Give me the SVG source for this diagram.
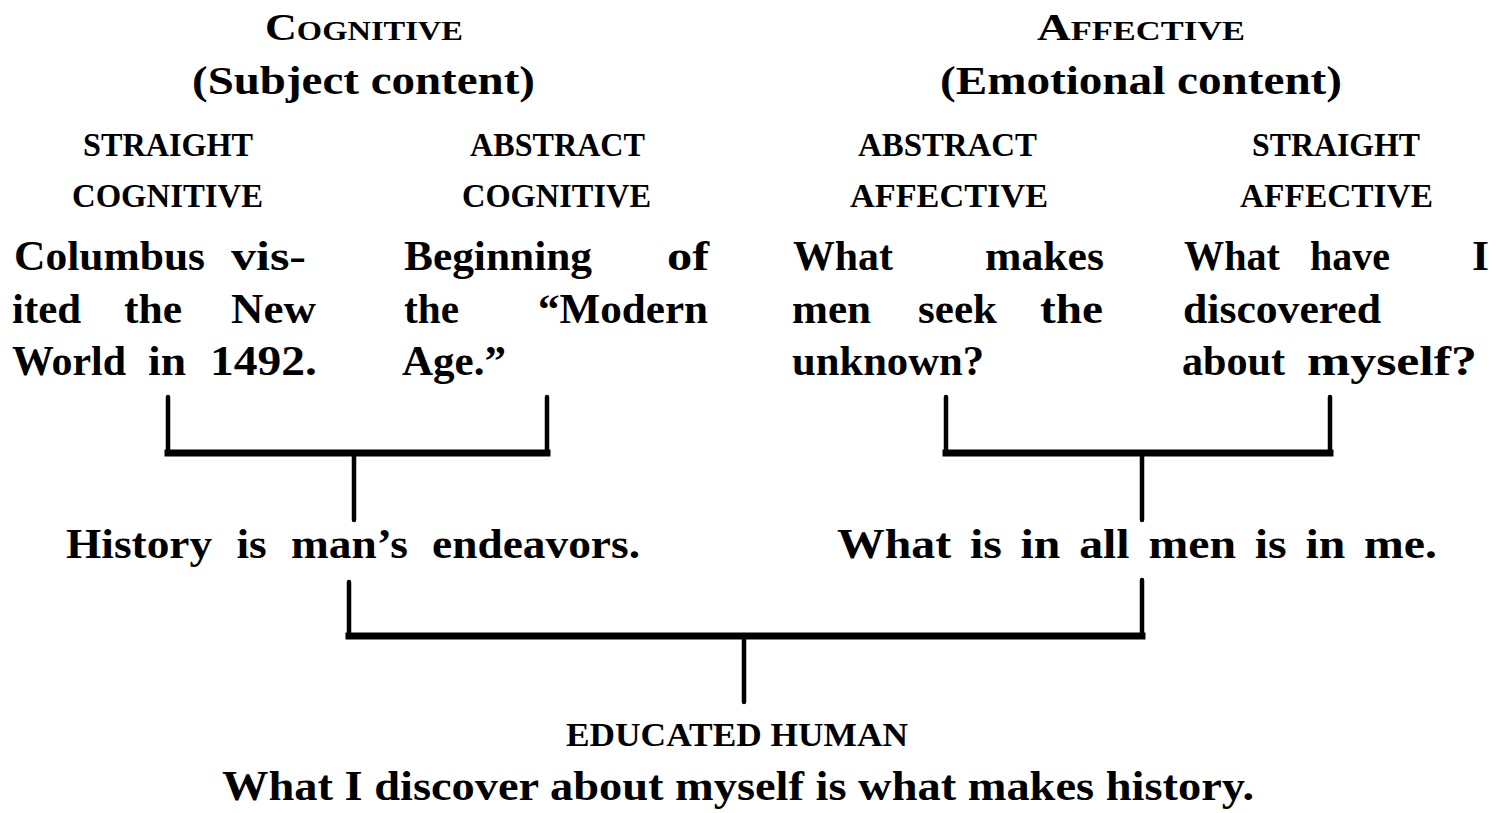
<svg xmlns="http://www.w3.org/2000/svg" width="1496" height="813" viewBox="0 0 1496 813">
<style>
text{font-family:"Liberation Serif","DejaVu Serif",serif;font-weight:bold;fill:#000}
.h{font-size:40px}
.sc{font-size:28px}
.big{font-size:38px}
.lab{font-size:33px}
.b{font-size:42px}
.v{stroke:#000;stroke-width:4.5;fill:none;stroke-linecap:round}
.hz{stroke:#000;stroke-width:7;fill:none;stroke-linecap:square}
</style>
<rect width="1496" height="813" fill="#fff"/>
<g id="cognitive">
<text x="265" y="40" textLength="198" lengthAdjust="spacingAndGlyphs"><tspan class="big">C</tspan><tspan class="sc">OGNITIVE</tspan></text>
<text class="h" x="192" y="94" textLength="343" lengthAdjust="spacingAndGlyphs">(Subject  content)</text>
</g>
<g id="affective">
<text x="1037" y="40" textLength="208" lengthAdjust="spacingAndGlyphs"><tspan class="big">A</tspan><tspan class="sc">FFECTIVE</tspan></text>
<text class="h" x="940" y="94" textLength="402" lengthAdjust="spacingAndGlyphs">(Emotional  content)</text>
</g>
<g id="straight-cognitive">
<text class="lab" x="83" y="156" textLength="170" lengthAdjust="spacingAndGlyphs">STRAIGHT</text>
<text class="lab" x="72" y="207" textLength="191" lengthAdjust="spacingAndGlyphs">COGNITIVE</text>
<text class="b" x="14" y="270" textLength="191" lengthAdjust="spacingAndGlyphs">Columbus</text>
<text class="b" x="231" y="270" textLength="75" lengthAdjust="spacingAndGlyphs">vis-</text>
<text class="b" x="12" y="323" textLength="69" lengthAdjust="spacingAndGlyphs">ited</text>
<text class="b" x="124" y="323" textLength="58" lengthAdjust="spacingAndGlyphs">the</text>
<text class="b" x="231" y="323" textLength="85" lengthAdjust="spacingAndGlyphs">New</text>
<text class="b" x="12" y="375" textLength="114" lengthAdjust="spacingAndGlyphs">World</text>
<text class="b" x="148" y="375" textLength="38" lengthAdjust="spacingAndGlyphs">in</text>
<text class="b" x="210" y="375" textLength="107" lengthAdjust="spacingAndGlyphs">1492.</text>
</g>
<g id="abstract-cognitive">
<text class="lab" x="470" y="156" textLength="175" lengthAdjust="spacingAndGlyphs">ABSTRACT</text>
<text class="lab" x="462" y="207" textLength="189" lengthAdjust="spacingAndGlyphs">COGNITIVE</text>
<text class="b" x="404" y="270" textLength="188" lengthAdjust="spacingAndGlyphs">Beginning</text>
<text class="b" x="667" y="270" textLength="42" lengthAdjust="spacingAndGlyphs">of</text>
<text class="b" x="404" y="323" textLength="55" lengthAdjust="spacingAndGlyphs">the</text>
<text class="b" x="538" y="323" textLength="170" lengthAdjust="spacingAndGlyphs">“Modern</text>
<text class="b" x="402" y="375" textLength="104" lengthAdjust="spacingAndGlyphs">Age.”</text>
</g>
<g id="abstract-affective">
<text class="lab" x="858" y="156" textLength="179" lengthAdjust="spacingAndGlyphs">ABSTRACT</text>
<text class="lab" x="850" y="207" textLength="198" lengthAdjust="spacingAndGlyphs">AFFECTIVE</text>
<text class="b" x="793" y="270" textLength="100" lengthAdjust="spacingAndGlyphs">What</text>
<text class="b" x="985" y="270" textLength="119" lengthAdjust="spacingAndGlyphs">makes</text>
<text class="b" x="792" y="323" textLength="79" lengthAdjust="spacingAndGlyphs">men</text>
<text class="b" x="918" y="323" textLength="79" lengthAdjust="spacingAndGlyphs">seek</text>
<text class="b" x="1040" y="323" textLength="63" lengthAdjust="spacingAndGlyphs">the</text>
<text class="b" x="792" y="375" textLength="192" lengthAdjust="spacingAndGlyphs">unknown?</text>
</g>
<g id="straight-affective">
<text class="lab" x="1252" y="156" textLength="168" lengthAdjust="spacingAndGlyphs">STRAIGHT</text>
<text class="lab" x="1240" y="207" textLength="193" lengthAdjust="spacingAndGlyphs">AFFECTIVE</text>
<text class="b" x="1184" y="270" textLength="96" lengthAdjust="spacingAndGlyphs">What</text>
<text class="b" x="1310" y="270" textLength="80" lengthAdjust="spacingAndGlyphs">have</text>
<text class="b" x="1472" y="270" textLength="17" lengthAdjust="spacingAndGlyphs">I</text>
<text class="b" x="1183" y="323" textLength="198" lengthAdjust="spacingAndGlyphs">discovered</text>
<text class="b" x="1182" y="375" textLength="103" lengthAdjust="spacingAndGlyphs">about</text>
<text class="b" x="1307" y="375" textLength="170" lengthAdjust="spacingAndGlyphs">myself?</text>
</g>
<g id="history">
<text class="b" x="66" y="558" textLength="574" lengthAdjust="spacingAndGlyphs" word-spacing="12">History is man’s endeavors.</text>
</g>
<g id="all-men">
<text class="b" x="837" y="558" textLength="600" lengthAdjust="spacingAndGlyphs" word-spacing="6">What is in all men is in me.</text>
</g>
<g id="educated-human">
<text class="lab" x="566" y="746" textLength="342" lengthAdjust="spacingAndGlyphs">EDUCATED HUMAN</text>
<text class="b" x="222" y="800" textLength="1032" lengthAdjust="spacingAndGlyphs">What I discover about myself is what makes history.</text>
</g>
<g id="connectors">
<path class="v" d="M168 397V453M547 397V453M354 453V520"/>
<path class="hz" d="M168 453H547"/>
<path class="v" d="M946 397V453M1330 397V453M1142 453V520"/>
<path class="hz" d="M946 453H1330"/>
<path class="v" d="M349 582V636M1142 580V636M744 636V702"/>
<path class="hz" d="M349 636H1142"/>
</g>
</svg>
